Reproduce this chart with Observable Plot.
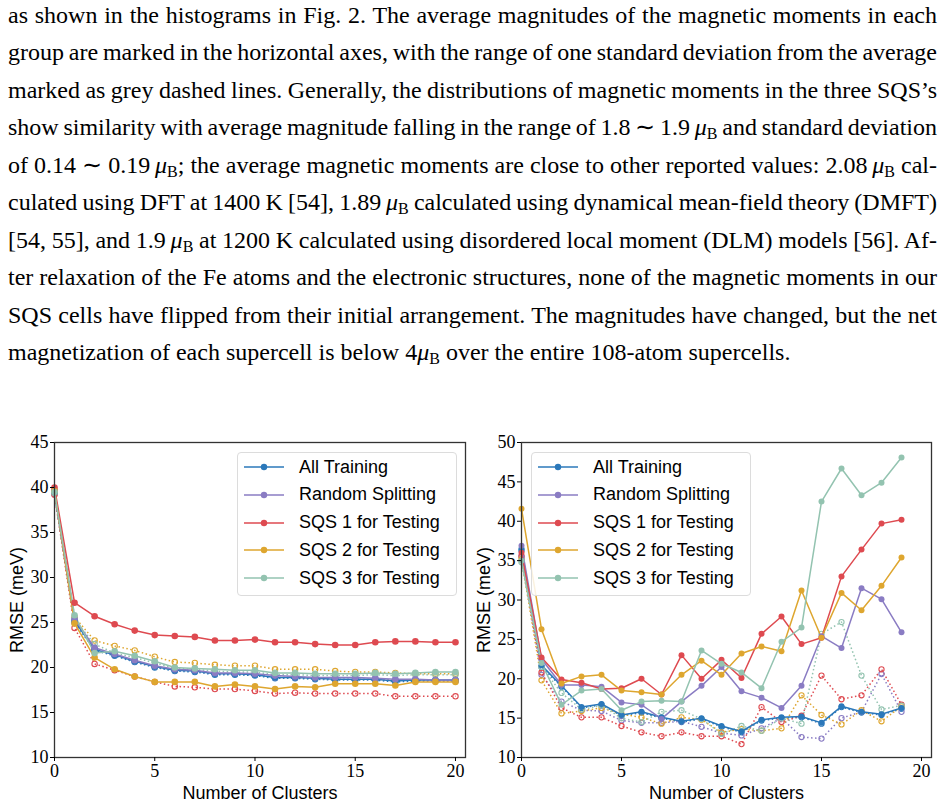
<!DOCTYPE html>
<html>
<head>
<meta charset="utf-8">
<script src="https://cdn.jsdelivr.net/npm/d3@7"></script>
<script src="https://cdn.jsdelivr.net/npm/@observablehq/plot@0.6"></script>
<style>
  html, body { margin: 0; padding: 0; background: #fff; }
  body { width: 945px; height: 803px; position: relative; overflow: hidden; }
  #text {
    position: absolute; left: 8px; top: -3.5px; width: 929px;
    font-family: "Liberation Serif", "Times New Roman", serif;
    font-size: 24px; line-height: 37.56px; color: #000;
  }
  #text .ln { height: 37.56px; white-space: nowrap; }
  #text i { font-style: italic; }
  #text sub { font-size: 16px; vertical-align: -4px; line-height: 0; }
  .panel { position: absolute; top: 425px; }
  .panel svg { display: block; }
  .panel g[aria-label="x-axis label"] text,
  .panel g[aria-label="y-axis label"] text {
    font-family: "Liberation Sans", Arial, sans-serif; font-size: 18px; fill: #000;
  }
  .legend {
    position: absolute; top: 452px; width: 218px; height: 142px;
    border: 1px solid #dcdcdc; border-radius: 4px; background: rgba(255,255,255,0.85);
    font-family: "Liberation Sans", Arial, sans-serif; font-size: 18px; color: #000;
  }
  .legend .row { position: absolute; left: 0; height: 20px; display: flex; align-items: center; }
  .legend .row svg { margin-left: 6px; margin-right: 15px; }
</style>
</head>
<body>
<div id="text">
  <div class="ln">as shown in the histograms in Fig. 2. The average magnitudes of the magnetic moments in each</div>
  <div class="ln">group are marked in the horizontal axes, with the range of one standard deviation from the average</div>
  <div class="ln">marked as grey dashed lines. Generally, the distributions of magnetic moments in the three SQS’s</div>
  <div class="ln">show similarity with average magnitude falling in the range of 1.8 ∼ 1.9&thinsp;<i>μ</i><sub>B</sub> and standard deviation</div>
  <div class="ln">of 0.14 ∼ 0.19&thinsp;<i>μ</i><sub>B</sub>; the average magnetic moments are close to other reported values: 2.08&thinsp;<i>μ</i><sub>B</sub> cal-</div>
  <div class="ln">culated using DFT at 1400 K [54], 1.89&thinsp;<i>μ</i><sub>B</sub> calculated using dynamical mean-field theory (DMFT)</div>
  <div class="ln">[54, 55], and 1.9&thinsp;<i>μ</i><sub>B</sub> at 1200 K calculated using disordered local moment (DLM) models [56]. Af-</div>
  <div class="ln">ter relaxation of the Fe atoms and the electronic structures, none of the magnetic moments in our</div>
  <div class="ln">SQS cells have flipped from their initial arrangement. The magnitudes have changed, but the net</div>
  <div class="ln last">magnetization of each supercell is below 4<i>μ</i><sub>B</sub> over the entire 108-atom supercells.</div>
</div>

<div id="left" class="panel" style="left:0px"></div>
<div id="right" class="panel" style="left:472px"></div>
<div id="legendLeft" class="legend" style="left:237px"></div>
<div id="legendRight" class="legend" style="left:531px"></div>

<script>
// Justify each paragraph line to the full text width by adjusting word spacing
(function justifyLines() {
  const full = 929;
  document.querySelectorAll("#text .ln").forEach(ln => {
    if (ln.classList.contains("last")) return;
    const span = document.createElement("span");
    while (ln.firstChild) span.appendChild(ln.firstChild);
    ln.appendChild(span);
    const w = span.getBoundingClientRect().width;
    const gaps = (ln.textContent.match(/ /g) || []).length;
    if (gaps > 0) ln.style.wordSpacing = ((full - w) / gaps) + "px";
  });
})();

// Training groups and their colours
const groups = ["All Training", "Random Splitting", "SQS 1 for Testing", "SQS 2 for Testing", "SQS 3 for Testing"];
const groupColors = ["#2b78ba", "#8a7cc3", "#de4a50", "#dea62f", "#93c3b0"];

// Number of clusters on each panel
const clustersLeft = [0, 1, 2, 3, 4, 5, 6, 7, 8, 9, 10, 11, 12, 13, 14, 15, 16, 17, 18, 19, 20];
const clustersRight = [0, 1, 2, 3, 4, 5, 6, 7, 8, 9, 10, 11, 12, 13, 14, 15, 16, 17, 18, 19];

// Left panel: RMSE (meV), solid (filled) and dotted (open) curves per group
const leftAllSolid    = [39.5, 25.2, 22.0, 21.4, 20.7, 20.1, 19.7, 19.6, 19.3, 19.3, 19.2, 18.9, 18.9, 18.8, 18.7, 18.7, 18.7, 18.5, 18.6, 18.6, 18.6];
const leftAllDotted   = [39.3, 25.0, 21.9, 21.3, 20.6, 20.0, 19.6, 19.5, 19.2, 19.2, 19.1, 18.8, 18.8, 18.7, 18.6, 18.6, 18.6, 18.4, 18.5, 18.5, 18.5];
const leftRandSolid   = [39.6, 25.4, 22.2, 21.5, 20.8, 20.2, 19.8, 19.7, 19.4, 19.4, 19.3, 19.1, 19.0, 18.9, 18.9, 18.9, 18.8, 18.7, 18.7, 18.6, 18.6];
const leftRandDotted  = [39.4, 25.1, 22.1, 21.4, 20.7, 20.1, 19.7, 19.6, 19.3, 19.3, 19.2, 18.9, 18.9, 18.8, 18.7, 18.7, 18.7, 18.6, 18.6, 18.5, 18.5];
const leftSqs1Solid   = [40.0, 27.2, 25.7, 24.8, 24.1, 23.6, 23.5, 23.4, 23.0, 23.0, 23.1, 22.8, 22.8, 22.6, 22.5, 22.5, 22.8, 22.9, 22.9, 22.8, 22.8];
const leftSqs1Dotted  = [39.2, 24.4, 20.4, 19.7, 19.0, 18.4, 17.9, 17.8, 17.6, 17.6, 17.4, 17.1, 17.2, 17.1, 17.1, 17.1, 17.1, 16.8, 16.8, 16.8, 16.8];
const leftSqs2Solid   = [39.6, 24.9, 21.1, 19.8, 19.0, 18.4, 18.4, 18.4, 17.9, 18.1, 17.9, 17.6, 17.9, 17.8, 18.2, 18.2, 18.2, 18.0, 18.4, 18.4, 18.4];
const leftSqs2Dotted  = [39.7, 25.6, 23.0, 22.4, 21.9, 21.2, 20.6, 20.5, 20.3, 20.2, 20.2, 19.8, 19.8, 19.8, 19.6, 19.5, 19.5, 19.4, 19.3, 19.3, 19.3];
const leftSqs3Solid   = [39.5, 25.8, 21.6, 21.8, 21.3, 20.7, 20.0, 19.9, 19.8, 19.7, 19.7, 19.4, 19.4, 19.3, 19.3, 19.3, 19.4, 19.3, 19.4, 19.5, 19.5];
const leftSqs3Dotted  = [39.4, 25.3, 22.6, 21.6, 21.1, 20.5, 19.9, 19.8, 19.6, 19.5, 19.5, 19.2, 19.2, 19.1, 19.1, 19.1, 19.2, 19.1, 19.2, 19.2, 19.2];

// Right panel: RMSE (meV), solid (filled) and dotted (open) curves per group
const rightAllSolid   = [36.5, 21.7, 19.1, 16.4, 16.8, 15.4, 15.8, 15.1, 14.6, 15.0, 14.0, 13.3, 14.8, 15.1, 15.2, 14.4, 16.5, 15.8, 15.5, 16.3];
const rightAllDotted  = [36.3, 21.5, 19.0, 16.3, 16.7, 15.3, 15.7, 15.0, 14.5, 14.9, 13.9, 13.2, 14.7, 15.0, 15.1, 14.3, 16.4, 15.7, 15.4, 16.2];
const rightRandSolid  = [36.9, 22.5, 19.2, 19.2, 19.0, 17.0, 16.7, 14.9, 17.1, 19.1, 21.5, 18.4, 17.6, 16.3, 19.1, 25.4, 23.9, 31.5, 30.1, 25.9];
const rightRandDotted = [35.5, 20.5, 17.1, 16.0, 15.9, 14.7, 14.4, 14.4, 14.6, 13.9, 13.1, 12.8, 13.7, 15.0, 12.6, 12.4, 15.0, 15.8, 20.6, 15.8];
const rightSqs1Solid  = [36.0, 22.7, 19.9, 19.5, 18.7, 18.8, 20.0, 18.0, 23.0, 20.0, 22.4, 20.1, 25.7, 27.9, 24.4, 25.2, 33.0, 36.4, 39.7, 40.2];
const rightSqs1Dotted = [35.6, 20.8, 16.3, 15.1, 15.1, 14.0, 13.2, 12.7, 13.2, 12.7, 12.7, 11.7, 16.4, 14.5, 15.3, 20.4, 17.4, 17.9, 21.2, 16.7];
const rightSqs2Solid  = [41.6, 26.3, 19.4, 20.3, 20.5, 18.5, 18.3, 18.0, 20.5, 22.3, 20.5, 23.2, 24.1, 23.5, 31.2, 25.2, 30.9, 28.7, 31.8, 35.4];
const rightSqs2Dotted = [35.2, 19.8, 15.6, 15.9, 16.3, 15.5, 15.1, 14.3, 15.1, 14.8, 13.2, 13.6, 13.4, 13.7, 17.9, 15.4, 14.2, 16.0, 14.6, 16.5];
const rightSqs3Solid  = [35.0, 22.0, 16.7, 18.5, 18.7, 16.0, 17.1, 17.2, 17.1, 23.6, 21.9, 20.8, 18.8, 24.7, 26.5, 42.5, 46.7, 43.3, 44.9, 48.1];
const rightSqs3Dotted = [34.8, 21.5, 18.2, 16.1, 16.6, 15.0, 14.5, 15.8, 16.0, 14.9, 13.0, 14.0, 13.4, 15.0, 14.3, 25.7, 27.2, 20.4, 16.1, 16.6];

// Axis ticks
const xTicks = [0, 5, 10, 15, 20];
const yTicksLeft = [10, 15, 20, 25, 30, 35, 40, 45];
const yTicksRight = [10, 15, 20, 25, 30, 35, 40, 45, 50];

function toRows(clusters, solids, dotteds) {
  const solid = [], dotted = [];
  groups.forEach((g, k) => {
    solids[k].forEach((v, i) => solid.push({clusters: clusters[i], rmse: v, group: g}));
    dotteds[k].forEach((v, i) => dotted.push({clusters: clusters[i], rmse: v, group: g}));
  });
  return {solid, dotted};
}

function panel({rows, yDomain, yTicks, width, marginLeft, marginRight, r, rOpen}) {
  return Plot.plot({
    width, height: 378,
    marginTop: 17, marginBottom: 46, marginLeft, marginRight,
    style: {fontFamily: "'Liberation Serif', 'Times New Roman', serif", fontSize: "18px", color: "#000", background: "transparent", overflow: "visible"},
    x: {domain: [0, 20.5]},
    y: {domain: yDomain},
    color: {domain: groups, range: groupColors},
    marks: [
      Plot.line(rows.dotted, {x: "clusters", y: "rmse", z: "group", stroke: "group", strokeWidth: 1.5, strokeDasharray: "1.5,2.5", strokeLinecap: "butt"}),
      Plot.dot(rows.dotted, {x: "clusters", y: "rmse", stroke: "group", fill: "none", r: rOpen, strokeWidth: 1.1}),
      Plot.line(rows.solid, {x: "clusters", y: "rmse", z: "group", stroke: "group", strokeWidth: 1.5}),
      Plot.dot(rows.solid, {x: "clusters", y: "rmse", fill: "group", r}),
      Plot.frame({stroke: "#333", strokeWidth: 1.3}),
      Plot.axisX({ticks: xTicks, tickSize: 4, tickPadding: 3, label: "Number of Clusters", labelAnchor: "center", labelArrow: "none", labelOffset: 41}),
      Plot.axisY({ticks: yTicks, tickSize: 4, tickPadding: 2, label: "RMSE (meV)", labelAnchor: "center", labelArrow: "none", labelOffset: 44})
    ]
  });
}

const leftRows = toRows(clustersLeft,
  [leftAllSolid, leftRandSolid, leftSqs1Solid, leftSqs2Solid, leftSqs3Solid],
  [leftAllDotted, leftRandDotted, leftSqs1Dotted, leftSqs2Dotted, leftSqs3Dotted]);
const rightRows = toRows(clustersRight,
  [rightAllSolid, rightRandSolid, rightSqs1Solid, rightSqs2Solid, rightSqs3Solid],
  [rightAllDotted, rightRandDotted, rightSqs1Dotted, rightSqs2Dotted, rightSqs3Dotted]);

document.getElementById("left").append(panel({rows: leftRows, yDomain: [10, 45], yTicks: yTicksLeft, width: 472, marginLeft: 54, marginRight: 7, r: 3.3, rOpen: 2.7}));
document.getElementById("right").append(panel({rows: rightRows, yDomain: [10, 50], yTicks: yTicksRight, width: 473, marginLeft: 49, marginRight: 14, r: 3.0, rOpen: 2.6}));

// Legends: line sample with marker, then the group name
function legend(el) {
  groups.forEach((g, i) => {
    const row = document.createElement("div");
    row.className = "row";
    row.style.top = (4 + i * 27.8) + "px";
    row.innerHTML = `<svg width="40" height="12"><line x1="0" x2="40" y1="6" y2="6" stroke="${groupColors[i]}" stroke-width="1.5"/><circle cx="20" cy="6" r="3.2" fill="${groupColors[i]}"/></svg><span>${g}</span>`;
    el.append(row);
  });
}
legend(document.getElementById("legendLeft"));
legend(document.getElementById("legendRight"));
</script>
</body>
</html>
